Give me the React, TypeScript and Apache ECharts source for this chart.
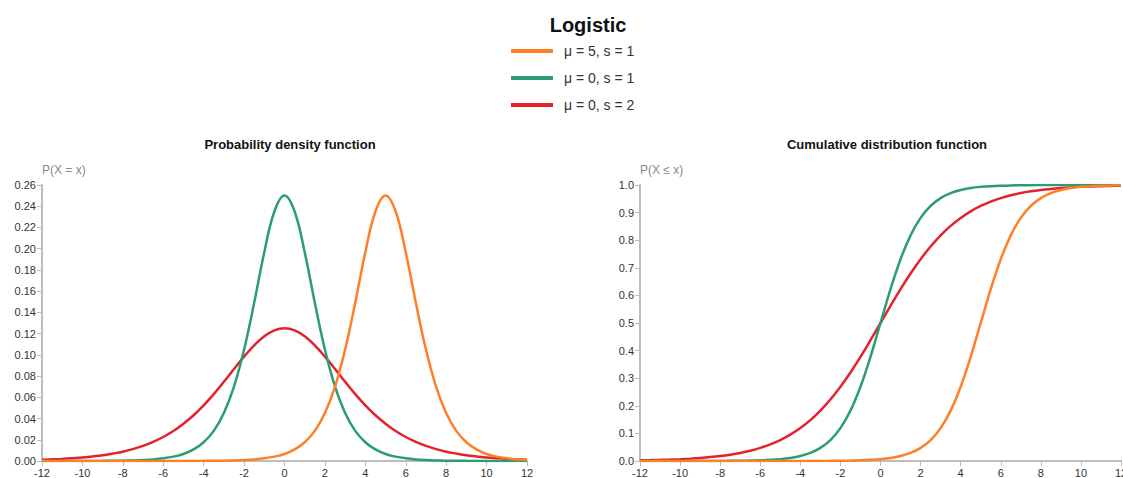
import React, { useEffect, useRef } from "react";
import * as echarts from "echarts";

const xs = [
  -12, -11.5, -11, -10.5, -10, -9.5, -9, -8.5, -8, -7.5, -7, -6.5, -6, -5.5, -5, -4.5, -4, -3.5, -3, -2.5, -2, -1.5, -1, -0.5,
  0, 0.5, 1, 1.5, 2, 2.5, 3, 3.5, 4, 4.5, 5, 5.5, 6, 6.5, 7, 7.5, 8, 8.5, 9, 9.5, 10, 10.5, 11, 11.5, 12,
];

const seriesNames = ["μ = 5, s = 1", "μ = 0, s = 1", "μ = 0, s = 2"];
const seriesColors = ["#ff7f27", "#2a9d76", "#e3232b"];

// PDF values
const pdfOrange = [
  0.00000004, 0.00000007, 0.0000001, 0.0000002, 0.0000003, 0.0000005, 0.0000008, 0.0000014, 0.0000023, 0.0000037,
  0.000006, 0.00001, 0.000017, 0.000028, 0.000045, 0.000075, 0.00012, 0.0002, 0.00034, 0.00055, 0.0009, 0.0015, 0.0025,
  0.0041, 0.0066, 0.0109, 0.0177, 0.0284, 0.0452, 0.0701, 0.105, 0.1491, 0.1966, 0.235, 0.25, 0.235, 0.1966, 0.1491,
  0.105, 0.0701, 0.0452, 0.0284, 0.0177, 0.0109, 0.0066, 0.0041, 0.0025, 0.0015, 0.0009,
];
const pdfGreen = [
  0.000006, 0.00001, 0.000017, 0.000028, 0.000045, 0.000075, 0.00012, 0.0002, 0.00034, 0.00055, 0.0009, 0.0015, 0.0025,
  0.0041, 0.0066, 0.0109, 0.0177, 0.0284, 0.0452, 0.0701, 0.105, 0.1491, 0.1966, 0.235, 0.25, 0.235, 0.1966, 0.1491,
  0.105, 0.0701, 0.0452, 0.0284, 0.0177, 0.0109, 0.0066, 0.0041, 0.0025, 0.0015, 0.0009, 0.00055, 0.00034, 0.0002,
  0.00012, 0.000075, 0.000045, 0.000028, 0.000017, 0.00001, 0.000006,
];
const pdfRed = [
  0.0012, 0.0016, 0.002, 0.0026, 0.0033, 0.0043, 0.0054, 0.007, 0.0088, 0.0112, 0.0142, 0.018, 0.0226, 0.0282, 0.0351,
  0.0431, 0.0525, 0.063, 0.0746, 0.0866, 0.0983, 0.1089, 0.1175, 0.1231, 0.125, 0.1231, 0.1175, 0.1089, 0.0983, 0.0866,
  0.0746, 0.063, 0.0525, 0.0431, 0.0351, 0.0282, 0.0226, 0.018, 0.0142, 0.0112, 0.0088, 0.007, 0.0054, 0.0043, 0.0033,
  0.0026, 0.002, 0.0016, 0.0012,
];

// CDF values
const cdfOrange = [
  0.00000004, 0.00000007, 0.0000001, 0.0000002, 0.0000003, 0.0000005, 0.0000008, 0.0000014, 0.0000023, 0.0000037,
  0.000006, 0.00001, 0.000017, 0.000028, 0.000045, 0.000075, 0.00012, 0.0002, 0.00034, 0.00055, 0.0009, 0.0015, 0.0025,
  0.0041, 0.0067, 0.011, 0.018, 0.0293, 0.0474, 0.0759, 0.1192, 0.1824, 0.2689, 0.3775, 0.5, 0.6225, 0.7311, 0.8176,
  0.8808, 0.9241, 0.9526, 0.9707, 0.982, 0.989, 0.9933, 0.9959, 0.9975, 0.9985, 0.9991,
];
const cdfGreen = [
  0.000006, 0.00001, 0.000017, 0.000028, 0.000045, 0.000075, 0.00012, 0.0002, 0.00034, 0.00055, 0.0009, 0.0015, 0.0025,
  0.0041, 0.0067, 0.011, 0.018, 0.0293, 0.0474, 0.0759, 0.1192, 0.1824, 0.2689, 0.3775, 0.5, 0.6225, 0.7311, 0.8176,
  0.8808, 0.9241, 0.9526, 0.9707, 0.982, 0.989, 0.9933, 0.9959, 0.9975, 0.9985, 0.9991, 0.99945, 0.99966, 0.9998,
  0.99988, 0.99993, 0.99995, 0.99997, 0.99998, 0.99999, 0.999994,
];
const cdfRed = [
  0.0025, 0.0032, 0.0041, 0.0052, 0.0067, 0.0086, 0.011, 0.0141, 0.018, 0.023, 0.0293, 0.0373, 0.0474, 0.0601, 0.0759,
  0.0953, 0.1192, 0.148, 0.1824, 0.2227, 0.2689, 0.3208, 0.3775, 0.4378, 0.5, 0.5622, 0.6225, 0.6792, 0.7311, 0.7773,
  0.8176, 0.852, 0.8808, 0.9047, 0.9241, 0.9399, 0.9526, 0.9627, 0.9707, 0.977, 0.982, 0.9859, 0.989, 0.9914, 0.9933,
  0.9948, 0.9959, 0.9968, 0.9975,
];

const pdfSeries = [pdfOrange, pdfGreen, pdfRed];
const cdfSeries = [cdfOrange, cdfGreen, cdfRed];

const axisGray = "#bdbdbd";
const labelColor = "#333";
const font = "Arial, Liberation Sans, sans-serif";

function makeX(gridIndex: number) {
  return {
    type: "value",
    gridIndex,
    min: -12,
    max: 12,
    interval: 2,
    axisLine: { show: true, onZero: false, lineStyle: { color: axisGray, width: 2 } },
    axisTick: { show: true, length: 5, lineStyle: { color: axisGray } },
    axisLabel: { color: labelColor, fontSize: 11, fontFamily: font, margin: 6 },
    splitLine: { show: false },
  };
}

function makeY(gridIndex: number, max: number, interval: number, name: string, decimals: number) {
  return {
    type: "value",
    gridIndex,
    min: 0,
    max,
    interval,
    name,
    nameLocation: "end",
    nameGap: 9,
    nameTextStyle: { color: "#888", fontSize: 12, align: "left", fontFamily: font },
    axisLine: { show: true, onZero: false, lineStyle: { color: axisGray, width: 2 } },
    axisTick: { show: true, length: 5, lineStyle: { color: axisGray } },
    axisLabel: {
      color: labelColor,
      fontSize: 11,
      fontFamily: font,
      margin: 6,
      formatter: (v: number) => v.toFixed(decimals),
    },
    splitLine: { show: false },
  };
}

export default function App() {
  const ref = useRef<HTMLDivElement>(null);

  useEffect(() => {
    if (!ref.current) return;
    const chart = echarts.init(ref.current, undefined, { renderer: "svg" });
    const drawOrder = [2, 1, 0];
    const series: any[] = [];
    [pdfSeries, cdfSeries].forEach((set, gi) => {
      drawOrder.forEach((si) => {
        series.push({
          type: "line",
          name: seriesNames[si],
          xAxisIndex: gi,
          yAxisIndex: gi,
          data: xs.map((x, i) => [x, set[si][i]]),
          showSymbol: false,
          smooth: 0.4,
          lineStyle: { color: seriesColors[si], width: 2.5 },
          itemStyle: { color: seriesColors[si] },
          z: 2 + (2 - si),
        });
      });
    });

    chart.setOption({
      animation: false,
      textStyle: { fontFamily: font },
      title: [
        {
          text: "Logistic",
          left: 583,
          top: 10,
          textAlign: "center",
          textStyle: { fontSize: 20, fontWeight: "bold", color: "#111" },
        },
        {
          text: "Probability density function",
          left: 285,
          top: 133,
          textAlign: "center",
          textStyle: { fontSize: 13, fontWeight: "bold", color: "#111" },
        },
        {
          text: "Cumulative distribution function",
          left: 882,
          top: 133,
          textAlign: "center",
          textStyle: { fontSize: 13, fontWeight: "bold", color: "#111" },
        },
      ],
      legend: {
        orient: "vertical",
        left: 511,
        top: 44,
        padding: 0,
        itemWidth: 42,
        itemHeight: 4,
        itemGap: 13,
        icon: "rect",
        data: seriesNames,
        textStyle: { fontSize: 14, color: "#333", padding: [0, 0, 0, 6] },
      },
      grid: [
        { left: 42, top: 185, width: 485, height: 276, outerBoundsMode: "none" },
        { left: 640, top: 185, width: 481, height: 276, outerBoundsMode: "none" },
      ],
      xAxis: [makeX(0), makeX(1)],
      yAxis: [makeY(0, 0.26, 0.02, "P(X = x)", 2), makeY(1, 1.0, 0.1, "P(X ≤ x)", 1)],
      series,
    });
    return () => chart.dispose();
  }, []);

  return <div ref={ref} style={{ position: "absolute", left: 0, top: 0, width: 1123, height: 478 }} />;
}
